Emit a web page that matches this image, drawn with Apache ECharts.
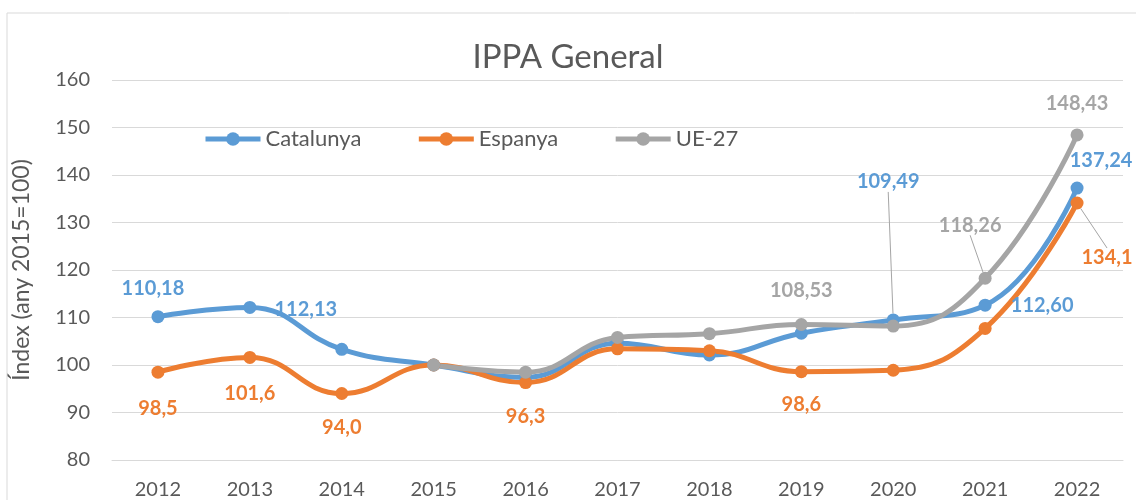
<!DOCTYPE html>
<html>
<head>
<meta charset="utf-8">
<script src="https://cdn.jsdelivr.net/npm/echarts@6/dist/echarts.min.js"></script>
<style>
  html, body { margin: 0; padding: 0; background: #fff; }
  #main { width: 1136px; height: 500px; }
</style>
</head>
<body>
<div id="main"></div>
<script>
var anys = ['2012', '2013', '2014', '2015', '2016', '2017', '2018', '2019', '2020', '2021', '2022'];
var catalunya = [110.18, 112.13, 103.3, 100.0, 97.4, 104.6, 102.1, 106.7, 109.49, 112.60, 137.24];
var espanya = [98.5, 101.6, 94.0, 100.0, 96.3, 103.4, 103.0, 98.6, 98.9, 107.7, 134.1];
var ue27 = [null, null, null, 100.0, 98.5, 105.8, 106.6, 108.53, 108.2, 118.26, 148.43];

// on va cada etiqueta respecte al punt: [dx, dy, amb línia guia]
var etiquetes = [
    {0: [-5, -28], 1: [56, 2], 8: [-5, -138, true], 9: [57, 0], 10: [24, -28]},
    {0: [0, 36], 1: [0, 36], 2: [0, 34], 4: [0, 34], 7: [0, 33], 10: [30, 55, true]},
    {7: [0, -34], 9: [-15, -53, true], 10: [0, -31]}
];

var gris = '#595959';
var font = 'Lato';

function serie(nom, valors, color, decimals, idx) {
    var pos = etiquetes[idx];
    return {
        name: nom,
        type: 'line',
        smooth: 0.45,
        symbol: 'circle',
        symbolSize: 13,
        lineStyle: {width: 5, color: color},
        itemStyle: {color: color},
        label: {
            show: false,
            color: color,
            fontFamily: font,
            fontWeight: 'bold',
            fontSize: 20,
            formatter: function (p) {
                return p.value.toFixed(decimals).replace('.', ',');
            }
        },
        labelLine: {show: false, lineStyle: {color: '#a5a5a5', width: 1}},
        labelLayout: function (p) {
            var o = pos[p.dataIndex];
            if (!o) return {};
            return {
                x: p.rect.x + p.rect.width / 2 + o[0],
                y: p.rect.y + p.rect.height / 2 + o[1],
                align: 'center',
                verticalAlign: 'middle'
            };
        },
        data: valors.map(function (v, i) {
            var o = pos[i];
            if (!o || v == null) return v;
            return {value: v, label: {show: true}, labelLine: {show: !!o[2]}};
        })
    };
}

var chart = echarts.init(document.getElementById('main'));
chart.setOption({
    animation: false,
    backgroundColor: '#fff',
    textStyle: {fontFamily: font},
    graphic: [{
        type: 'rect',
        shape: {x: 7, y: 13, width: 1200, height: 600},
        style: {fill: 'none', stroke: '#d9d9d9', lineWidth: 1}
    }],
    title: {
        text: 'IPPA General',
        left: 'center',
        top: 41,
        padding: 0,
        textStyle: {fontFamily: font, fontSize: 33, fontWeight: 'normal', color: gris}
    },
    legend: {
        left: 203,
        top: 128,
        padding: 0,
        itemWidth: 55,
        itemHeight: 17,
        itemGap: 55,
        lineStyle: {width: 5},
        textStyle: {fontFamily: font, fontSize: 22, color: gris}
    },
    grid: {left: 112, right: 13, top: 80, bottom: 37},
    xAxis: {
        type: 'category',
        data: anys,
        boundaryGap: true,
        axisLine: {lineStyle: {color: '#d9d9d9', width: 1}},
        axisTick: {show: false},
        axisLabel: {fontFamily: font, fontSize: 20, color: gris, margin: 20}
    },
    yAxis: {
        type: 'value',
        min: 80,
        max: 160,
        interval: 10,
        name: 'Índex (any 2015=100)',
        nameLocation: 'middle',
        nameGap: 79,
        nameTextStyle: {fontFamily: font, fontSize: 23, color: gris},
        axisLine: {show: false},
        axisTick: {show: false},
        axisLabel: {fontFamily: font, fontSize: 20, color: gris, margin: 22},
        splitLine: {lineStyle: {color: '#d9d9d9', width: 1}}
    },
    series: [
        serie('Catalunya', catalunya, '#5b9bd5', 2, 0),
        serie('Espanya', espanya, '#ed7d31', 1, 1),
        serie('UE-27', ue27, '#a5a5a5', 2, 2)
    ]
});
</script>
</body>
</html>
